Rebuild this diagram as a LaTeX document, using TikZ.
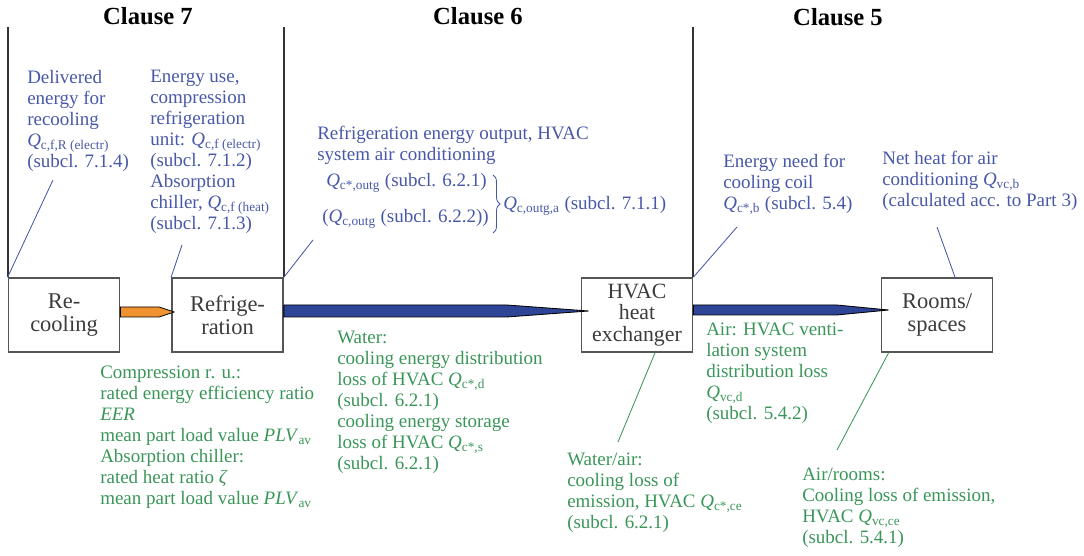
\documentclass[tikz,border=0pt]{standalone}
\usepackage{fontspec}
\setmainfont{Liberation Serif}
\usetikzlibrary{decorations.pathreplacing}

\definecolor{lblblue}{RGB}{72,88,168}
\definecolor{lblgreen}{RGB}{58,150,88}
\definecolor{pipeorange}{RGB}{240,146,48}
\definecolor{pipeblue}{RGB}{46,68,150}
\definecolor{boxgray}{RGB}{85,85,85}
\definecolor{boxtext}{RGB}{60,60,60}

\newcommand{\Qs}[1]{\textit{Q}\textsubscript{#1}}

\begin{document}
\begin{tikzpicture}[
  x=0.025cm, y=-0.025cm,
  box/.style={draw=boxgray, line width=1.1pt, minimum width=2.78cm, minimum height=1.85cm,
    inner sep=0pt, align=center, text=boxtext, font=\fontsize{16}{16.3}\selectfont},
  clause/.style={font=\fontsize{17.5}{18}\selectfont\bfseries, inner sep=0pt},
  lbl/.style={align=left, inner sep=0pt, anchor=north west, font=\fontsize{13.5}{14.9}\selectfont},
  blab/.style={lbl, text=lblblue},
  glab/.style={lbl, text=lblgreen},
  divider/.style={draw=black!80, line width=1.5pt},
  lead/.style={draw=lblblue, line width=0.6pt},
  gld/.style={draw=lblgreen, line width=0.6pt},
  pipe/.style={draw=black, line width=0.6pt, line join=miter}
]
\useasboundingbox (0,0) rectangle (1084,556);

% clause titles
\node[clause] (c7) at (148,16) {Clause 7};
\node[clause] (c6) at (478,16) {Clause 6};
\node[clause] (c5) at (838,17) {Clause 5};

% boxes
\node[box] (rc) at (64,315) {Re-\\cooling};
\node[box] (rf) at (227.5,315) {Refrige-\\ration};
\node[box, font=\fontsize{15.5}{15.2}\selectfont] (hx) at (637,315) {HVAC\\heat\\exchanger};
\node[box] (rm) at (937,315) {Rooms/\\spaces};

% dividers
\draw[divider] (rc.north west |- 0,27) -- (rc.north west);
\draw[divider] (rf.north east |- 0,27) -- (rf.north east);
\draw[divider] (hx.north east |- 0,27) -- (hx.north east);

% pipes
\draw[pipe, fill=pipeorange] ([yshift=2mm]rc.east) -- ([xshift=-3mm,yshift=2mm]rf.west)
  -- ([xshift=0.75mm,yshift=0.75mm]rf.west) -- ([xshift=-3mm,yshift=-0.5mm]rf.west)
  -- ([yshift=-0.5mm]rc.east) -- cycle;
\draw[pipe, fill=pipeblue] ([yshift=2.5mm]rf.east) -- ([xshift=-18.5mm,yshift=2.5mm]hx.west)
  -- ([xshift=2mm,yshift=1mm]hx.west) -- ([xshift=-18.5mm,yshift=-0.5mm]hx.west)
  -- ([yshift=-0.5mm]rf.east) -- cycle;
\draw[pipe, fill=pipeblue] ([yshift=2.5mm]hx.east) -- ([xshift=-11mm,yshift=2.5mm]rm.west)
  -- ([xshift=2mm,yshift=1.25mm]rm.west) -- ([xshift=-11mm,yshift=0mm]rm.west)
  -- ([yshift=0mm]hx.east) -- cycle;

% upper labels
\node[blab] (dlv) at (27,70) {Delivered\\energy for\\recooling\\\Qs{c,f,R (electr)}\\(subcl. 7.1.4)};
\node[blab] (euse) at (150,70) {Energy use,\\compression\\refrigeration\\unit: \Qs{c,f (electr)}\\(subcl. 7.1.2)\\Absorption\\chiller, \Qs{c,f (heat)}\\(subcl. 7.1.3)};
\node[blab] (rout) at (317,126) {Refrigeration energy output, HVAC\\system air conditioning};
\node[blab] (qa) at (326,173) {\Qs{c*,outg} (subcl. 6.2.1)};
\node[blab] (qb) at (322,209) {(\Qs{c,outg} (subcl. 6.2.2))};
\draw[lead, decorate, decoration={brace, amplitude=5pt}] (493,175) -- (493,233);
\node[blab] (qsum) at (503,196) {\Qs{c,outg,a} (subcl. 7.1.1)};
\node[blab] (need) at (723,154) {Energy need for\\cooling coil\\\Qs{c*,b} (subcl. 5.4)};
\node[blab] (net) at (882,151) {Net heat for air\\conditioning \Qs{vc,b}\\(calculated acc. to Part 3)};

% lower labels
\node[glab] (comp) at (100,366) {Compression r. u.:\\rated energy efficiency ratio\\\textit{EER}\\mean part load value \textit{PLV}\textsubscript{av}\\Absorption chiller:\\rated heat ratio \textit{ζ}\\mean part load value \textit{PLV}\textsubscript{av}};
\node[glab] (wat) at (337,331) {Water:\\cooling energy distribution\\loss of HVAC \Qs{c*,d}\\(subcl. 6.2.1)\\cooling energy storage\\loss of HVAC \Qs{c*,s}\\(subcl. 6.2.1)};
\node[glab] (wair) at (567,453) {Water/air:\\cooling loss of\\emission, HVAC \Qs{c*,ce}\\(subcl. 6.2.1)};
\node[glab] (air) at (706,323) {Air: HVAC venti-\\lation system\\distribution loss\\\Qs{vc,d}\\(subcl. 5.4.2)};
\node[glab] (arm) at (802,468) {Air/rooms:\\Cooling loss of emission,\\HVAC \Qs{vc,ce}\\(subcl. 5.4.1)};

% leader lines
\coordinate (p1) at (53,180);
\coordinate (p2) at (182,245);
\coordinate (p3) at (313,240);
\coordinate (p4) at (737,227);
\coordinate (p5) at (937,227);
\coordinate (p6) at (618,442);
\coordinate (p7) at (837,450);
\draw[lead] (p1) -- (rc.north west);
\draw[lead] (p2) -- (rf.north west);
\draw[lead] (p3) -- (rf.north east);
\draw[lead] (p4) -- (hx.north east);
\draw[lead] (p5) -- ([xshift=4.5mm]rm.north);
\draw[gld] ([xshift=4.5mm]hx.south) -- (p6);
\draw[gld] ([xshift=2mm]rm.south west) -- (p7);
\end{tikzpicture}
\end{document}
